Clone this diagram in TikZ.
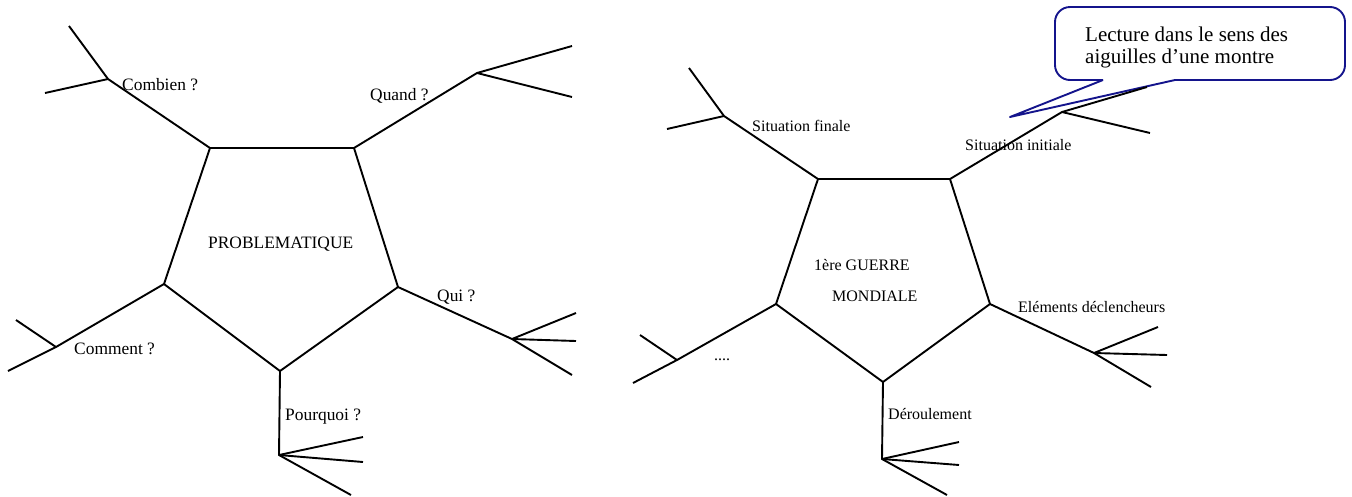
\documentclass[tikz,border=0pt]{standalone}
\usepackage{fontspec}
\setmainfont{Liberation Serif}
\definecolor{calloutblue}{RGB}{20,20,140}
\begin{document}
\begin{tikzpicture}[x=1pt,y=-1pt,
  ln/.style={line width=1.9pt, line join=round},
  lblL/.style={anchor=base west, inner sep=0pt, font=\fontsize{17.4}{20}\selectfont},
  lblR/.style={anchor=base west, inner sep=0pt, font=\fontsize{16}{19}\selectfont},
  callout/.style={draw=calloutblue, line width=1.9pt, fill=white, line join=round},
  callouttext/.style={anchor=base west, inner sep=0pt, align=left, font=\fontsize{21}{22}\selectfont}]
\useasboundingbox (0,0) rectangle (1352,496);

% ---------- callout ----------
\draw[callout] (1103,80) -- (1010,117) -- (1175,80)
  [rounded corners=15pt] -- (1345,80) -- (1345,7) -- (1055,7) -- (1055,80) -- (1103,80);
\node[callouttext] (ctext1) at (1085,41) {Lecture dans le sens des};
\node[callouttext] (ctext2) at (1085,63) {aiguilles d’une montre};

% ---------- left pentagon ----------
\coordinate (A1) at (210,148);
\coordinate (A2) at (354,148);
\coordinate (A3) at (398,287);
\coordinate (A4) at (280,371);
\coordinate (A5) at (164,284);
\draw[ln] (A1) -- (A2) -- (A3) -- (A4) -- (A5) -- cycle;

\coordinate (C0) at (108,79);  \coordinate (C1) at (69,26);   \coordinate (C2) at (45,93);
\coordinate (Q0) at (477,73);  \coordinate (Q1) at (572,46);  \coordinate (Q2) at (572,97);
\coordinate (U0) at (512,339); \coordinate (U1) at (576,313); \coordinate (U2) at (576,341); \coordinate (U3) at (572,375);
\coordinate (P0) at (279,455); \coordinate (P1) at (363,437); \coordinate (P2) at (363,462); \coordinate (P3) at (351,495);
\coordinate (M0) at (56,347);  \coordinate (M1) at (16,320);  \coordinate (M2) at (8,371);

\draw[ln] (A1) -- (C0) -- (C1);  \draw[ln] (C0) -- (C2);
\draw[ln] (A2) -- (Q0) -- (Q1);  \draw[ln] (Q0) -- (Q2);
\draw[ln] (A3) -- (U0) -- (U1);  \draw[ln] (U0) -- (U2);  \draw[ln] (U0) -- (U3);
\draw[ln] (A4) -- (P0) -- (P1);  \draw[ln] (P0) -- (P2);  \draw[ln] (P0) -- (P3);
\draw[ln] (A5) -- (M0) -- (M1);  \draw[ln] (M0) -- (M2);

\node[lblL] (combien) at (122,90) {Combien ?};
\node[lblL] (quand) at (370,100) {Quand ?};
\node[lblL] (qui) at (437,301) {Qui ?};
\node[lblL] (pourquoi) at (285,420) {Pourquoi ?};
\node[lblL] (comment) at (74,354) {Comment ?};
\node[lblL] (problem) at (208,248) {PROBLEMATIQUE};

% ---------- right pentagon ----------
\coordinate (B1) at (818,179);
\coordinate (B2) at (950,179);
\coordinate (B3) at (990,304);
\coordinate (B4) at (883,382);
\coordinate (B5) at (776,304);
\draw[ln] (B1) -- (B2) -- (B3) -- (B4) -- (B5) -- cycle;

\coordinate (F0) at (724,116);  \coordinate (F1) at (689,68);   \coordinate (F2) at (667,129);
\coordinate (I0) at (1062,112); \coordinate (I1) at (1147,87);  \coordinate (I2) at (1150,133);
\coordinate (E0) at (1094,353); \coordinate (E1) at (1158,327); \coordinate (E2) at (1167,355); \coordinate (E3) at (1151,387);
\coordinate (D0) at (882,459);  \coordinate (D1) at (959,442);  \coordinate (D2) at (959,465); \coordinate (D3) at (947,495);
\coordinate (X0) at (677,360);  \coordinate (X1) at (640,335);  \coordinate (X2) at (633,383);

\draw[ln] (B1) -- (F0) -- (F1);  \draw[ln] (F0) -- (F2);
\draw[ln] (B2) -- (I0) -- (I1);  \draw[ln] (I0) -- (I2);
\draw[ln] (B3) -- (E0) -- (E1);  \draw[ln] (E0) -- (E2);  \draw[ln] (E0) -- (E3);
\draw[ln] (B4) -- (D0) -- (D1);  \draw[ln] (D0) -- (D2);  \draw[ln] (D0) -- (D3);
\draw[ln] (B5) -- (X0) -- (X1);  \draw[ln] (X0) -- (X2);

\node[lblR] (finale) at (752,131) {Situation finale};
\node[lblR] (initiale) at (965,150) {Situation initiale};
\node[lblR] (elements) at (1018,312) {Eléments déclencheurs};
\node[lblR] (deroul) at (888,419) {Déroulement};
\node[lblR] (dots) at (714,360) {....};
\node[lblR] (guerre) at (814,270) {1ère GUERRE};
\node[lblR] (mondiale) at (832,301) {MONDIALE};
\end{tikzpicture}
\end{document}
